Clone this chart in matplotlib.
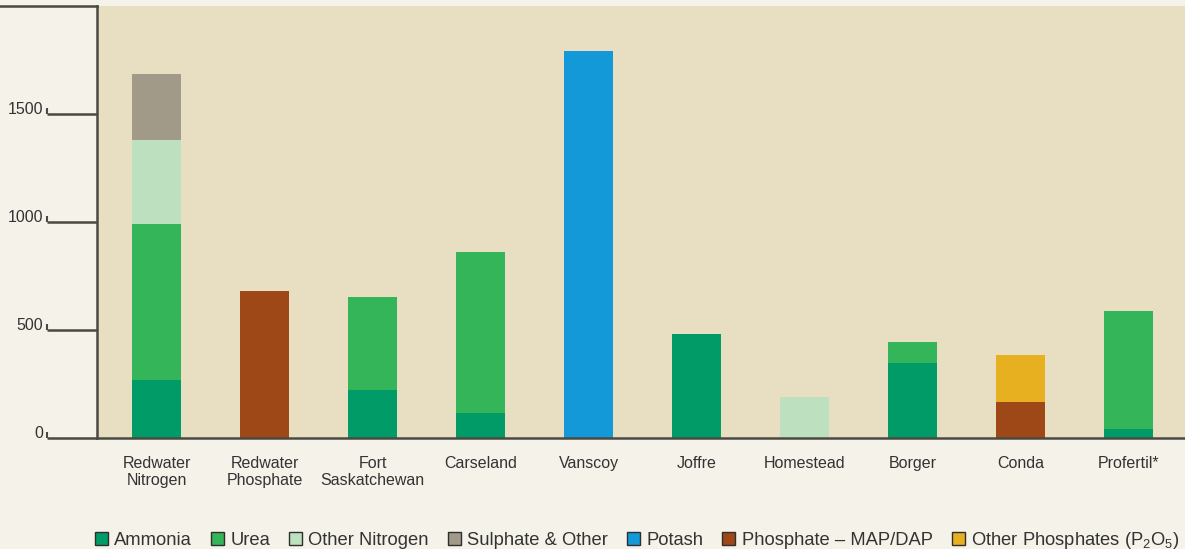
import numpy as np
import matplotlib.pyplot as plt
import matplotlib.transforms as mtransforms
from matplotlib.patches import Patch
from matplotlib.lines import Line2D

plt.rcParams['font.family'] = ['Liberation Sans', 'DejaVu Sans']
plt.rcParams['mathtext.default'] = 'regular'

plants = ["Redwater\nNitrogen", "Redwater\nPhosphate", "Fort\nSaskatchewan", "Carseland",
          "Vanscoy", "Joffre", "Homestead", "Borger", "Conda", "Profertil*"]

# capacity by product ('000 tonnes)
ammonia = [267, 0, 221, 115, 0, 481, 0, 345, 0, 40]
urea = [724, 0, 431, 745, 0, 0, 0, 99, 0, 548]
other_nitrogen = [386, 0, 0, 0, 0, 0, 189, 0, 0, 0]
sulphate_other = [309, 0, 0, 0, 0, 0, 0, 0, 0, 0]
potash = [0, 0, 0, 0, 1793, 0, 0, 0, 0, 0]
phosphate = [0, 680, 0, 0, 0, 0, 0, 0, 166, 0]
other_phosphates = [0, 0, 0, 0, 0, 0, 0, 0, 218, 0]

series = [
    ("Ammonia", ammonia, "#009b67"),
    ("Urea", urea, "#35b55a"),
    ("Other Nitrogen", other_nitrogen, "#bde0bf"),
    ("Sulphate & Other", sulphate_other, "#a29a89"),
    ("Potash", potash, "#1398d8"),
    ("Phosphate – MAP/DAP", phosphate, "#9e4818"),
    ("Other Phosphates (P$_2$O$_5$)", other_phosphates, "#e6b020"),
]

axis_col = "#4a4a42"
text_col = "#333333"

fig = plt.figure(figsize=(11.85, 5.49), dpi=100, facecolor="#f5f2ea")
ax = fig.add_axes([97 / 1185, 1 - 437.7 / 549, 1 - 97 / 1185, (437.7 - 6) / 549])
ax.set_facecolor("#e8dfc2")

x = np.arange(len(plants))
bottom = np.zeros(len(plants))
for name, vals, col in series:
    vals = np.array(vals, dtype=float)
    ax.bar(x, vals, width=0.455, bottom=bottom, color=col, zorder=2)
    bottom += vals

ax.set_xlim(-0.551, 9.523)
ax.set_ylim(0, 2000)

for s in ["top", "right"]:
    ax.spines[s].set_visible(False)
for s in ["left", "bottom"]:
    ax.spines[s].set_color(axis_col)
    ax.spines[s].set_linewidth(1.8)

ax.set_yticks([0, 500, 1000, 1500])
ax.tick_params(axis="y", length=36, width=1.8, color=axis_col, pad=3,
               labelsize=11.5, labelcolor=text_col)
# labels sit a little above their tick line
lift = mtransforms.ScaledTranslation(0, 6 / 100, fig.dpi_scale_trans)
for lab in ax.get_yticklabels():
    lab.set_transform(lab.get_transform() + lift)

ax.set_xticks(x)
ax.set_xticklabels(plants, fontsize=11.5, color=text_col, linespacing=1.15)
ax.tick_params(axis="x", length=0, pad=13)

# small hooks at the left end of the y ticks
for yv in [0, 500, 1000, 1500]:
    ax.plot([-50 / 1088, -50 / 1088], [yv, yv + 28], color=axis_col, lw=1.5,
            solid_capstyle="butt", transform=ax.get_yaxis_transform(), clip_on=False)

# top rule over the left margin
fig.add_artist(Line2D([0, 97 / 1185], [1 - 6 / 549, 1 - 6 / 549],
                      color=axis_col, lw=1.8, transform=fig.transFigure))

handles = [Patch(facecolor=col, edgecolor="#2e2e2e", linewidth=1.0, label=name)
           for name, vals, col in series]
fig.legend(handles=handles, loc="center left", bbox_to_anchor=(95 / 1185, 0.015),
           ncol=7, frameon=False, fontsize=13.2, labelcolor=text_col,
           handlelength=0.7, handleheight=0.7, handletextpad=0.35,
           columnspacing=1.04, borderpad=0, borderaxespad=0)

fig.savefig("out.png", dpi=100, facecolor=fig.get_facecolor())
